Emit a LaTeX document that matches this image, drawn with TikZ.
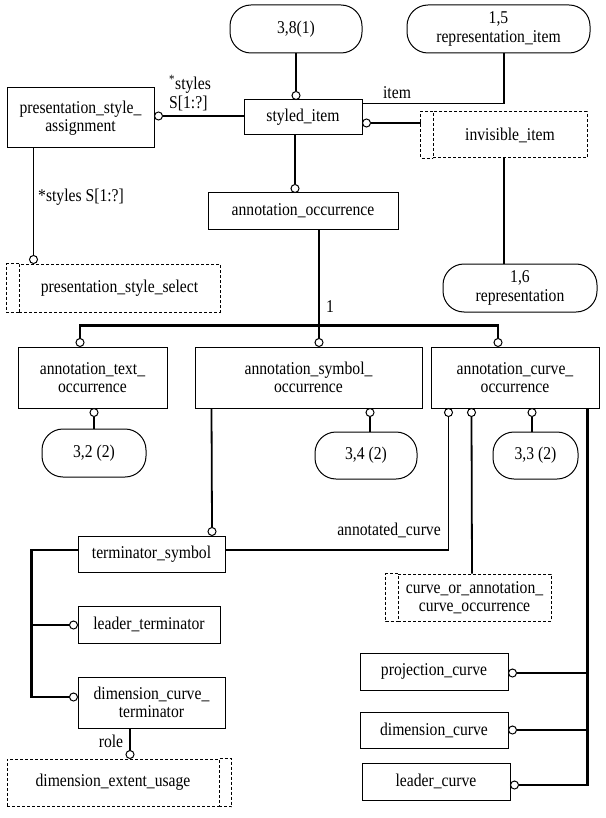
\documentclass[tikz,border=0pt]{standalone}
\usepackage{fontspec}
\setmainfont{Liberation Serif}[FakeStretch=0.87]
\usetikzlibrary{calc}
\begin{document}
\begin{tikzpicture}[x=1pt,y=-1pt,
  every node/.style={font=\fontsize{18}{18.5}\selectfont},
  ent/.style={draw,line width=1pt,align=center,inner sep=0pt},
  rnd/.style={ent,rounded corners=21pt},
  sel/.style={draw,line width=1pt,dash pattern=on 3pt off 2pt,align=center,inner sep=0pt},
  dsh/.style={line width=1pt,dash pattern=on 3pt off 2pt},
  thk/.style={line width=2.6pt},
  med/.style={line width=1.8pt},
  thn/.style={line width=1.1pt},
  circ/.style={draw,fill=white,line width=1pt},
  lbl/.style={inner sep=0pt}
]
\useasboundingbox (0,0) rectangle (605,818);
% nodes
\node[rnd,minimum width=132pt,minimum height=48pt] (n38) at (296,29) {3,8(1)};
\node[rnd,minimum width=183pt,minimum height=48pt] (n15) at (498.5,29) {1,5\\representation\_item};
\node[ent,minimum width=147pt,minimum height=60pt] (psa) at (80.5,118) {presentation\_style\_\\assignment};
\node[ent,minimum width=118pt,minimum height=35pt] (si) at (303,117.5) {styled\_item};
\node[sel,minimum width=154pt,minimum height=46pt] (inv) at (510,135) {invisible\_item};
\node[rnd,minimum width=154pt,minimum height=48pt] (n16) at (520,288) {1,6\\representation};
\node[ent,minimum width=190pt,minimum height=36pt] (ao) at (303,211) {annotation\_occurrence};
\node[sel,minimum width=201pt,minimum height=48pt] (pss) at (119.5,288) {presentation\_style\_select};
\node[ent,minimum width=149pt,minimum height=61pt] (ato) at (92.5,377.5) {annotation\_text\_\\occurrence};
\node[ent,minimum width=227pt,minimum height=61pt] (aso) at (308.5,377.5) {annotation\_symbol\_\\occurrence};
\node[ent,minimum width=168pt,minimum height=61pt] (aco) at (515,377.5) {annotation\_curve\_\\occurrence};
\node[rnd,minimum width=104pt,minimum height=48pt] (n32) at (94,453) {3,2 (2)};
\node[rnd,minimum width=102pt,minimum height=47pt] (n34) at (366,455.5) {3,4 (2)};
\node[rnd,minimum width=85pt,minimum height=47pt] (n33) at (535.5,455.5) {3,3 (2)};
\node[ent,minimum width=147pt,minimum height=36pt] (ts) at (151.5,554) {terminator\_symbol};
\node[ent,minimum width=142pt,minimum height=37pt] (lt) at (149,624.5) {leader\_terminator};
\node[ent,minimum width=147pt,minimum height=51pt] (dct) at (151.5,702.5) {dimension\_curve\_\\terminator};
\node[sel,minimum width=212pt,minimum height=47pt] (deu) at (113,782.5) {dimension\_extent\_usage};
\node[sel,minimum width=153pt,minimum height=47pt] (coa) at (474.5,597.5) {curve\_or\_annotation\_\\curve\_occurrence};
\node[ent,minimum width=148pt,minimum height=37pt] (pc) at (434,671.5) {projection\_curve};
\node[ent,minimum width=148pt,minimum height=36pt] (dc) at (434,730) {dimension\_curve};
\node[ent,minimum width=148pt,minimum height=37pt] (lc) at (436,781.5) {leader\_curve};
% select strips
\draw[dsh] (inv.north west) -- ++(-12,0) |- (inv.south west);
\draw[dsh] (pss.north west) -- ++(-12,0) |- (pss.south west);
\draw[dsh] (deu.north east) -- ++(12,0) |- (deu.south east);
\draw[dsh] (coa.north west) -- ++(-12,0) |- (coa.south west);
% connectors
\draw[thk] (n38.south) -- ($(n38.south |- si.north)+(0,-8)$);
\draw[circ] ($(n38.south |- si.north)+(0,-4)$) circle (4pt);
\draw[thn] ($(psa.east)+(8,-2)$) -- ($(psa.east -| si.west)+(0,-2)$);
\draw[circ] ($(psa.east)+(4,-2)$) circle (4pt);
\draw[med] ($(si.north east)+(0,4)$) -| ($(n15.south)+(5.5,0)$);
\draw[thn] ($(si.east)+(8,5.5)$) -- ($(inv.west)+(-12,-12)$);
\draw[circ] ($(si.east)+(4,5.5)$) circle (4pt);
\draw[thn] ($(inv.south)+(-6,0)$) -- ($(n16.north)+(-16,0)$);
\draw[thk] ($(si.south)+(-8,0)$) -- ($(ao.north)+(-8,-8)$);
\draw[circ] ($(ao.north)+(-8,-4)$) circle (4pt);
\draw[thn] ($(psa.south west)+(27,0)$) -- ($(pss.north west)+(15,-8)$);
\draw[circ] ($(pss.north west)+(15,-4)$) circle (4pt);
\draw[thk] ($(ao.south)+(16,0)$) -- ($(aso.north)+(10.5,-8)$);
\draw[thk] ($(ato.north)+(-12.5,-8)$) |- ($(aco.north)+(-17,-21)$) -- ($(aco.north)+(-17,-8)$);
\draw[circ] ($(ato.north)+(-12.5,-4)$) circle (4pt);
\draw[circ] ($(aso.north)+(10.5,-4)$) circle (4pt);
\draw[circ] ($(aco.north)+(-17,-4)$) circle (4pt);
\draw[thn] (n32.north) -- ($(ato.south -| n32.north)+(0,8)$);
\draw[circ] ($(ato.south -| n32.north)+(0,4)$) circle (4pt);
\draw[thn] ($(n34.north)+(4,0)$) -- ($(aso.south -| n34.north)+(4,8)$);
\draw[circ] ($(aso.south -| n34.north)+(4,4)$) circle (4pt);
\draw[thn] ($(n33.north)+(-3.5,0)$) -- ($(aco.south -| n33.north)+(-3.5,8)$);
\draw[circ] ($(aco.south -| n33.north)+(-3.5,4)$) circle (4pt);
\draw[thn] ($(aco.south west)+(18,8)$) |- ($(ts.east)+(0,-4)$);
\draw[circ] ($(aco.south west)+(18,4)$) circle (4pt);
\draw[med] ($(aco.south west)+(41,8)$) -- ($(coa.north)+(-2.5,0)$);
\draw[circ] ($(aco.south west)+(41,4)$) circle (4pt);
\draw[thk] ($(aco.south east)+(-12,0)$) |- ($(lc.east)+(8,3.5)$);
\draw[thk] ($(pc.east)+(8,1.5)$) -- ($(pc.east -| aco.south east)+(-12,1.5)$);
\draw[thk] ($(dc.east)+(8,0)$) -- ($(dc.east -| aco.south east)+(-12,0)$);
\draw[circ] ($(pc.east)+(4,1.5)$) circle (4pt);
\draw[circ] ($(dc.east)+(4,0)$) circle (4pt);
\draw[circ] ($(lc.east)+(4,3.5)$) circle (4pt);
\draw[med] ($(aso.south west)+(17,0)$) -- ($(ts.north)+(60.5,-8)$);
\draw[circ] ($(ts.north)+(60.5,-4)$) circle (4pt);
\draw[thk] ($(ts.west)+(0,-4)$) -| ($(dct.west)+(-46,-5.5)$) -- ($(dct.west)+(-8,-5.5)$);
\draw[circ] ($(dct.west)+(-4,-5.5)$) circle (4pt);
\draw[thk] ($(lt.west)+(-46,0.5)$) -- ($(lt.west)+(-8,0.5)$);
\draw[circ] ($(lt.west)+(-4,0.5)$) circle (4pt);
\draw[thn] ($(dct.south)+(-21.5,0)$) -- ($(deu.north)+(17,-8)$);
\draw[circ] ($(deu.north)+(17,-4)$) circle (4pt);
% labels
\node[lbl,anchor=west,align=left] (lsty1) at (169,93) {\textsuperscript{*}styles\\S[1:?]};
\node[lbl,anchor=west] (lsty2) at (38,197) {*styles S[1:?]};
\node[lbl] (litem) at (397,93) {item};
\node[lbl] (lone) at (330,307) {1};
\node[lbl] (lac) at (389,530) {annotated\_curve};
\node[lbl] (lrole) at (111,741) {role};
\end{tikzpicture}
\end{document}
